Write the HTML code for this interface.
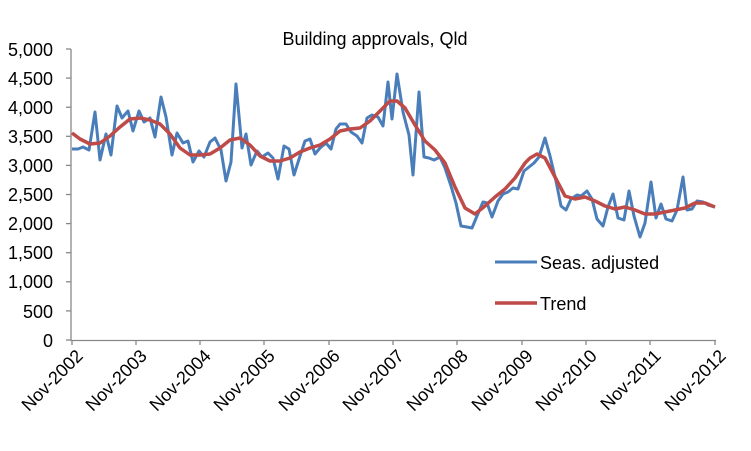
<!DOCTYPE html>
<html><head><meta charset="utf-8"><style>
html,body{margin:0;padding:0;background:#fff;}
svg{display:block;font-family:"Liberation Sans",sans-serif;}
</style></head><body>
<svg width="751" height="451" viewBox="0 0 751 451" xmlns="http://www.w3.org/2000/svg">
<text x="375" y="45" font-size="18" text-anchor="middle" fill="#000">Building approvals, Qld</text>
<g stroke="#888" stroke-width="1.3" fill="none">
<line x1="71" y1="49" x2="71" y2="341"/>
<line x1="71" y1="340.5" x2="716" y2="340.5"/>
<line x1="66" y1="49" x2="71" y2="49"/><line x1="66" y1="78.1" x2="71" y2="78.1"/><line x1="66" y1="107.2" x2="71" y2="107.2"/><line x1="66" y1="136.3" x2="71" y2="136.3"/><line x1="66" y1="165.4" x2="71" y2="165.4"/><line x1="66" y1="194.5" x2="71" y2="194.5"/><line x1="66" y1="223.6" x2="71" y2="223.6"/><line x1="66" y1="252.7" x2="71" y2="252.7"/><line x1="66" y1="281.8" x2="71" y2="281.8"/><line x1="66" y1="310.9" x2="71" y2="310.9"/><line x1="66" y1="340" x2="71" y2="340"/>
<line x1="72" y1="340" x2="72" y2="345"/><line x1="136" y1="340" x2="136" y2="345"/><line x1="200" y1="340" x2="200" y2="345"/><line x1="264" y1="340" x2="264" y2="345"/><line x1="329" y1="340" x2="329" y2="345"/><line x1="393" y1="340" x2="393" y2="345"/><line x1="457" y1="340" x2="457" y2="345"/><line x1="522" y1="340" x2="522" y2="345"/><line x1="586" y1="340" x2="586" y2="345"/><line x1="650" y1="340" x2="650" y2="345"/><line x1="715" y1="340" x2="715" y2="345"/>
</g>
<g font-size="18" text-anchor="end" fill="#000">
<text x="53" y="56">5,000</text><text x="53" y="85">4,500</text><text x="53" y="114">4,000</text><text x="53" y="143">3,500</text><text x="53" y="172">3,000</text><text x="53" y="201">2,500</text><text x="53" y="230">2,000</text><text x="53" y="259">1,500</text><text x="53" y="288">1,000</text><text x="53" y="318">500</text><text x="53" y="347">0</text>
</g>
<g font-size="18" text-anchor="end" fill="#000">
<text transform="translate(84,357) rotate(-45)">Nov-2002</text>
<text transform="translate(148,357) rotate(-45)">Nov-2003</text>
<text transform="translate(212,357) rotate(-45)">Nov-2004</text>
<text transform="translate(276,357) rotate(-45)">Nov-2005</text>
<text transform="translate(341,357) rotate(-45)">Nov-2006</text>
<text transform="translate(405,357) rotate(-45)">Nov-2007</text>
<text transform="translate(469,357) rotate(-45)">Nov-2008</text>
<text transform="translate(534,357) rotate(-45)">Nov-2009</text>
<text transform="translate(598,357) rotate(-45)">Nov-2010</text>
<text transform="translate(662,357) rotate(-45)">Nov-2011</text>
<text transform="translate(727,357) rotate(-45)">Nov-2012</text>
</g>
<polyline fill="none" stroke="#4a7ebb" stroke-width="3" stroke-linejoin="round" points="72,149 78,149 83,147 89,150 95,112 100,160 106,134 111,155 117,106 122,118 128,111 133,131 139,111 144,122 150,118 155,137 161,97 166,117 172,155 177,133 183,143 188,141 193,162 199,151 204,157 210,142 215,138 221,150 226,181 231,162 236,84 242,148 246,134 251,165 257,151 262,157 268,153 273,158 278,179 284,146 289,149 294,175 300,156 305,141 310,139 315,154 320,148 326,143 331,149 336,129 340,124 346,124 351,132 357,136 362,143 367,118 372,115 378,117 383,126 388,82 392,119 397,74 403,112 409,135 413,175 419,92 424,157 429,158 434,160 440,157 445,168 451,186 456,203 461,226 467,227 472,228 477,216 483,202 487,203 492,217 498,201 503,194 508,192 513,188 518,189 524,171 529,167 534,163 539,157 545,138 550,156 556,181 561,206 566,210 571,199 577,195 581,196 587,191 592,199 597,219 603,226 608,207 613,194 618,218 624,220 629,191 634,216 640,237 645,223 651,182 656,218 661,204 666,219 672,221 677,210 683,177 687,210 692,209 697,201 703,202 708,205 715,207"/>
<polyline fill="none" stroke="#be4b48" stroke-width="3.5" stroke-linejoin="round" points="72,133 80,139 90,144 100,143 110,136 120,127 130,119 140,118 150,120 160,124 170,134 180,148 190,155 200,155 210,154 220,148 230,140 240,138 250,145 260,156 270,161 280,161 290,158 300,152 310,148 320,145 330,139 340,131 350,129 360,128 370,121 380,111 390,101 397,101 405,108 415,125 425,141 435,150 445,163 455,187 465,208 475,214 485,206 495,197 505,189 515,178 525,163 530,158 537,154 545,158 555,177 565,196 575,199 585,197 595,201 605,206 615,209 625,207 635,210 645,214 655,214 665,212 675,210 685,208 695,203 705,203 715,207"/>
<line x1="495" y1="262" x2="537" y2="262" stroke="#4a7ebb" stroke-width="3"/>
<text x="540" y="269" font-size="18" fill="#000">Seas. adjusted</text>
<line x1="495" y1="303" x2="537" y2="303" stroke="#be4b48" stroke-width="3.5"/>
<text x="540" y="310" font-size="18" fill="#000">Trend</text>
</svg>
</body></html>
